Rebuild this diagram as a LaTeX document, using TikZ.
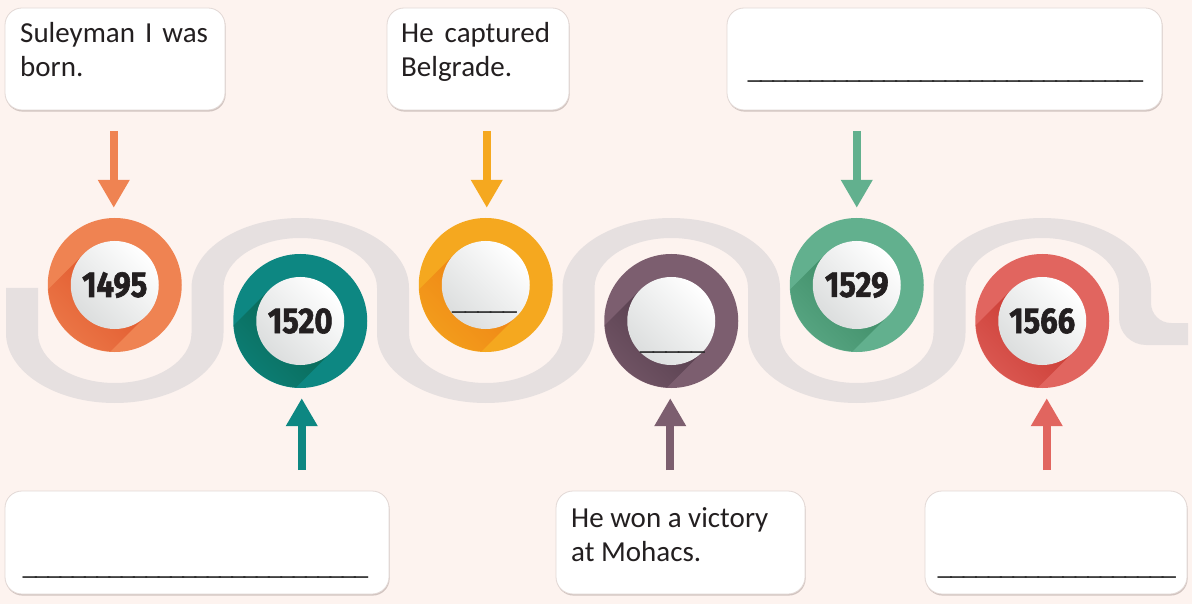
\documentclass[tikz,border=0pt]{standalone}
\usepackage{fontspec}
\setmainfont{Carlito}
\newfontfamily\yearfont[FakeStretch=0.86,FakeBold=1.6]{Fira Sans}
\usetikzlibrary{arrows.meta,shadows,calc}
\definecolor{bg}{HTML}{FDF3EF}
\definecolor{band}{HTML}{E6E0E0}
\definecolor{corange}{HTML}{EF8352}
\definecolor{dorange}{HTML}{E0552A}
\definecolor{cteal}{HTML}{0D8782}
\definecolor{dteal}{HTML}{0A6450}
\definecolor{cyellow}{HTML}{F5A81F}
\definecolor{dyellow}{HTML}{EE8014}
\definecolor{cpurple}{HTML}{7C5E6F}
\definecolor{dpurple}{HTML}{523A49}
\definecolor{cgreen}{HTML}{62B08E}
\definecolor{dgreen}{HTML}{3A8862}
\definecolor{cred}{HTML}{E1655F}
\definecolor{dred}{HTML}{C8362E}
\definecolor{discgray}{HTML}{DCDEDE}
\definecolor{ink}{HTML}{231F20}
\definecolor{textcol}{HTML}{231F20}
\definecolor{linecol}{HTML}{2A2A2A}
\definecolor{boxline}{HTML}{E2D8D5}
\definecolor{boxshade}{HTML}{CDBFBB}
\newcommand\ulfill[1]{\hbox to #1{\xleaders\hbox{\_\kern-2.5pt}\hfill}}
\newcommand\ringshadow[3]{%
  \begin{scope}
    \clip (#1) circle[radius=66.5pt];
    \shade[top color=#2, middle color=#2!50!#3, bottom color=#3, shading angle=-45]
      ($(#1)+(-31.1,-31.1)$) -- ($(#1)+(-93.1,30.9)$) -- ($(#1)+(-30.9,93.1)$) -- ($(#1)+(31.1,31.1)$) -- cycle;
  \end{scope}}
\begin{document}
\begin{tikzpicture}[x=1pt,y=-1pt,
  ring/.style={circle,minimum size=134pt,inner sep=0pt},
  disc/.style={circle,minimum size=88pt,inner sep=0pt,top color=white,bottom color=discgray,shading angle=-45,
    font=\yearfont\bfseries\fontsize{36}{36}\selectfont,text=ink},
  arr/.style={line width=8pt,draw=#1,-{Triangle[length=28pt,width=30pt]}},
  tbox/.style={rounded corners=17pt,fill=white,draw=boxline,line width=0.8pt,inner sep=0pt,
    drop shadow={shadow xshift=0.6pt,shadow yshift=-1.6pt,fill=boxshade,opacity=0.9}},
  btext/.style={anchor=base west,inner sep=0pt,align=left,font=\fontsize{29}{34}\selectfont,text=textcol},
  blanktext/.style={anchor=base west,inner sep=0pt,font=\fontsize{29}{34}\selectfont,text=linecol},
]
\fill[bg] (0,0) rectangle (1192,604);
\useasboundingbox (0,0) rectangle (1192,604);

% serpentine band
\fill[band] (6,288) -- (6,333)
  .. controls (6,371.66) and (54.69,403) .. (114.75,403)
  .. controls (174.81,403) and (223.5,371.66) .. (223.5,333) -- (223.5,288)
  .. controls (223.5,260.38) and (257.86,238) .. (300.25,238)
  .. controls (342.64,238) and (377,260.38) .. (377,288) -- (377,333)
  .. controls (377,371.66) and (425.69,403) .. (485.75,403)
  .. controls (545.81,403) and (594.5,371.66) .. (594.5,333) -- (594.5,288)
  .. controls (594.5,260.38) and (628.86,238) .. (671.25,238)
  .. controls (713.64,238) and (748,260.38) .. (748,288) -- (748,333)
  .. controls (748,371.66) and (796.69,403) .. (856.75,403)
  .. controls (916.81,403) and (965.5,371.66) .. (965.5,333) -- (965.5,288)
  .. controls (965.5,260.38) and (999.86,238) .. (1042.25,238)
  .. controls (1084.64,238) and (1119,260.38) .. (1119,288) -- (1119,318)
  .. controls (1119,332.9) and (1131.1,345) .. (1146,345) -- (1188,345) -- (1188,323) -- (1171,323)
  .. controls (1159.95,323) and (1151,314.05) .. (1151,303) -- (1151,288)
  .. controls (1151,249.34) and (1102.31,218) .. (1042.25,218)
  .. controls (982.19,218) and (933.5,249.34) .. (933.5,288) -- (933.5,333)
  .. controls (933.5,360.62) and (899.14,383) .. (856.75,383)
  .. controls (814.36,383) and (780,360.62) .. (780,333) -- (780,288)
  .. controls (780,249.34) and (731.31,218) .. (671.25,218)
  .. controls (611.19,218) and (562.5,249.34) .. (562.5,288) -- (562.5,333)
  .. controls (562.5,360.62) and (528.14,383) .. (485.75,383)
  .. controls (443.36,383) and (409,360.62) .. (409,333) -- (409,288)
  .. controls (409,249.34) and (360.31,218) .. (300.25,218)
  .. controls (240.19,218) and (191.5,249.34) .. (191.5,288) -- (191.5,333)
  .. controls (191.5,360.62) and (157.14,383) .. (114.75,383)
  .. controls (72.36,383) and (38,360.62) .. (38,333) -- (38,288) -- cycle;

% rings
\node[ring,fill=corange] (c1) at (114.75,285) {};
\node[ring,fill=cteal]   (c2) at (300.25,321) {};
\node[ring,fill=cyellow] (c3) at (485.75,285) {};
\node[ring,fill=cpurple] (c4) at (671.25,321) {};
\node[ring,fill=cgreen]  (c5) at (856.75,285) {};
\node[ring,fill=cred]    (c6) at (1042.25,321) {};

\ringshadow{c1}{dorange}{corange}
\ringshadow{c2}{dteal}{cteal}
\ringshadow{c3}{dyellow}{cyellow}
\ringshadow{c4}{dpurple}{cpurple}
\ringshadow{c5}{dgreen}{cgreen}
\ringshadow{c6}{dred}{cred}

\node[disc] (w1) at (c1) {1495};
\node[disc] (w2) at (c2) {1520};
\node[disc] (w3) at (c3) {};
\node[disc] (w4) at (c4) {};
\node[disc] (w5) at (c5) {1529};
\node[disc] (w6) at (c6) {1566};
\node[blanktext] (u3) at (451,309) {\ulfill{64pt}};
\node[blanktext] (u4) at (639,349) {\ulfill{64pt}};

% arrows
\draw[arr=corange] ([xshift=-1pt,yshift=87pt]c1.north) -- ([xshift=-1pt,yshift=10pt]c1.north);
\draw[arr=cyellow] ([xshift=1pt,yshift=87pt]c3.north) -- ([xshift=1pt,yshift=10pt]c3.north);
\draw[arr=cgreen]  ([yshift=87pt]c5.north) -- ([yshift=10pt]c5.north);
\draw[arr=cteal]   ([xshift=1.5pt,yshift=-82pt]c2.south) -- ([xshift=1.5pt,yshift=-10pt]c2.south);
\draw[arr=cpurple] ([xshift=-1pt,yshift=-82pt]c4.south) -- ([xshift=-1pt,yshift=-10pt]c4.south);
\draw[arr=cred]    ([xshift=4.5pt,yshift=-82pt]c6.south) -- ([xshift=4.5pt,yshift=-10pt]c6.south);

% boxes
\node[tbox,minimum width=220pt,minimum height=102pt] (b1) at (115,59) {};
\node[tbox,minimum width=182pt,minimum height=102pt] (b2) at (478,59) {};
\node[tbox,minimum width=435pt,minimum height=102pt] (b3) at (944.5,59) {};
\node[tbox,minimum width=384pt,minimum height=103pt] (b4) at (197,542.5) {};
\node[tbox,minimum width=249pt,minimum height=103pt] (b5) at (680.5,542.5) {};
\node[tbox,minimum width=262pt,minimum height=103pt] (b6) at (1056,542.5) {};

\node[btext] (t1) at (20,77) {Suleyman\hskip 10pt I\hskip 10pt was\\born.};
\node[btext] (t2) at (401,77) {He\hskip 11pt captured\\Belgrade.};
\node[blanktext] (t3) at (747,79) {\ulfill{394pt}};
\node[blanktext] (t4) at (22,574) {\ulfill{344pt}};
\node[btext] (t5) at (571,561) {He won a victory\\at Mohacs.};
\node[blanktext] (t6) at (937,574) {\ulfill{237pt}};
\end{tikzpicture}
\end{document}
